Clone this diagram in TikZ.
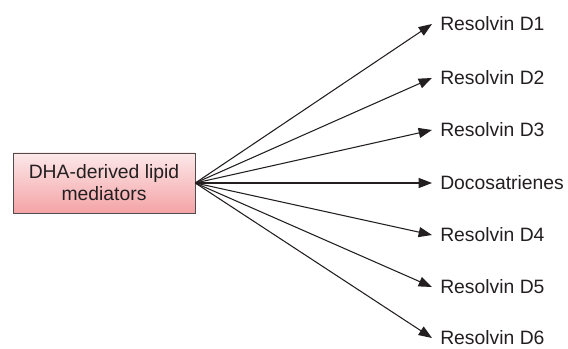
\documentclass[tikz,border=0pt]{standalone}
\usepackage{fontspec}
\setmainfont{Liberation Sans}
\usetikzlibrary{arrows.meta}
\definecolor{boxtop}{HTML}{FCE8E9}
\definecolor{boxbot}{HTML}{F4A3A6}
\definecolor{ink}{HTML}{231F20}
\tikzset{
	>={Triangle[length=10pt,width=7.5pt]},
	sourcebox/.style={
		rectangle,
		top color=boxtop,
		bottom color=boxbot,
		draw=ink!80, thin,
		minimum width=136.5pt,
		minimum height=45pt,
		align=center,
		font=\fontsize{14.5}{16.5}\selectfont},
	product/.style={
		anchor=west,
		inner xsep=6pt,
		inner ysep=0pt,
		font=\fontsize{14.5}{16.5}\selectfont},
	link/.style={draw=ink, line width=0.8pt, ->},
}
\begin{document}
\begin{tikzpicture}[x=0.75pt,y=-0.75pt,text=ink]
	\useasboundingbox (0,0) rectangle (568,349);
	\node[sourcebox] (dha) at (104,183) {DHA-derived lipid\\mediators};
	\foreach \name/\ypos/\txt in {
		rvdone/24/Resolvin D1,
		rvdtwo/78/Resolvin D2,
		rvdthree/130/Resolvin D3,
		docosa/183/Docosatrienes,
		rvdfour/235/Resolvin D4,
		rvdfive/287/Resolvin D5,
		rvdsix/338/Resolvin D6}
	{
		\node[product] (\name) at (432,\ypos) {\txt};
		\draw[link] (dha.east) -- (\name.west);
	}
\end{tikzpicture}
\end{document}
